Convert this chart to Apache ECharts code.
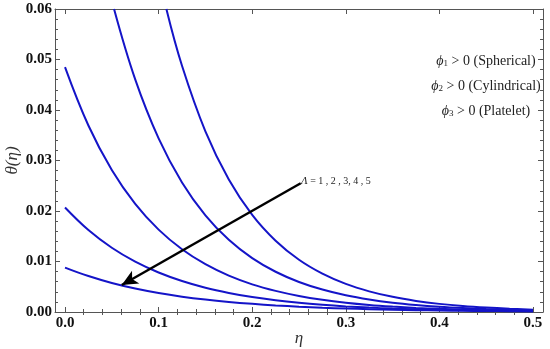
<!DOCTYPE html>
<html>
<head>
<meta charset="utf-8">
<script src="https://cdn.jsdelivr.net/npm/echarts@6/dist/echarts.min.js"></script>
<style>html,body{margin:0;padding:0;background:#fff}#c{width:550px;height:349px}</style>
</head>
<body>
<div id="c"></div>
<script>
// ---- data ----
const etaA   = [0, 0.025, 0.05, 0.075, 0.1, 0.125, 0.15, 0.175, 0.2, 0.225, 0.25, 0.275, 0.3, 0.325, 0.35, 0.375, 0.4, 0.425, 0.45, 0.475, 0.5];
const theta1 = [0.0088, 0.00712, 0.00575, 0.00465, 0.00376, 0.00304, 0.00246, 0.00199, 0.00161, 0.00130, 0.00105, 0.00085, 0.00069, 0.00056, 0.00045, 0.00036, 0.00029, 0.00024, 0.00019, 0.00016, 0.00013];
const theta2 = [0.0207, 0.01623, 0.01272, 0.00997, 0.00782, 0.00613, 0.00480, 0.00377, 0.00295, 0.00231, 0.00181, 0.00142, 0.00111, 0.00087, 0.00068, 0.00054, 0.00042, 0.00033, 0.00026, 0.00020, 0.00016];
const theta3 = [0.0485, 0.03693, 0.02812, 0.02141, 0.01631, 0.01242, 0.00946, 0.00720, 0.00548, 0.00418, 0.00318, 0.00242, 0.00184, 0.00140, 0.00107, 0.00081, 0.00062, 0.00047, 0.00036, 0.00027, 0.00021];
const etaB   = [0.0524, 0.075, 0.1, 0.125, 0.15, 0.175, 0.2, 0.225, 0.25, 0.275, 0.3, 0.325, 0.35, 0.375, 0.4, 0.425, 0.45, 0.475, 0.5];
const theta4 = [0.06, 0.04606, 0.03438, 0.02566, 0.01915, 0.01430, 0.01067, 0.00797, 0.00595, 0.00444, 0.00331, 0.00247, 0.00184, 0.00138, 0.00103, 0.00077, 0.00057, 0.00043, 0.00032];
const etaC   = [0.1083, 0.125, 0.15, 0.175, 0.2, 0.225, 0.25, 0.275, 0.3, 0.325, 0.35, 0.375, 0.4, 0.425, 0.45, 0.475, 0.5];
const theta5 = [0.06, 0.04877, 0.03578, 0.02624, 0.01924, 0.01412, 0.01035, 0.00760, 0.00557, 0.00409, 0.00300, 0.00220, 0.00161, 0.00118, 0.00087, 0.00064, 0.00047];

const xMajor = [0, 0.1, 0.2, 0.3, 0.4, 0.5];
const xMinor = [0.02, 0.04, 0.06, 0.08, 0.12, 0.14, 0.16, 0.18, 0.22, 0.24, 0.26, 0.28, 0.32, 0.34, 0.36, 0.38, 0.42, 0.44, 0.46, 0.48];
const arrowStart = [0.2518, 0.0255];
const arrowEnd   = [0.0606, 0.00535];
const legendLines = [['1', 'Spherical'], ['2', 'Cylindrical'], ['3', 'Platelet']];
const lambdaText = '{i|Λ} = 1 , 2 , 3, 4 , 5';

const zip = (xs, ys) => xs.map((x, i) => [x, ys[i]]);
const curves = [zip(etaA, theta1), zip(etaA, theta2), zip(etaA, theta3), zip(etaB, theta4), zip(etaC, theta5)];

const frameColor = '#555';
const labelFont = {fontFamily: 'Liberation Serif', fontWeight: 'bold', fontSize: 15, color: '#111'};
const xRange = {min: -0.0107, max: 0.5107};

const chart = echarts.init(document.getElementById('c'), null, {renderer: 'canvas'});

const series = curves.map((d, i) => ({
  type: 'line', data: d, smooth: 0.4, showSymbol: false, symbol: 'none',
  lineStyle: {color: '#1414c8', width: 2}, clip: true, silent: true,
  markLine: i === 0 ? {
    silent: true, symbol: ['none', 'arrow'], symbolSize: [11, 16],
    lineStyle: {color: '#000', width: 2.5, type: 'solid'},
    label: {show: false},
    data: [[{coord: arrowStart}, {coord: arrowEnd}]]
  } : undefined
}));

const legendGraphics = legendLines.map((l, i) => ({
  type: 'text', x: 486, y: 61 + i * 25,
  style: {
    text: '{p|ϕ}{s|' + l[0] + '}{t| > 0 (' + l[1] + ')}',
    align: 'center', verticalAlign: 'middle',
    rich: {
      p: {fontFamily: 'Liberation Serif', fontStyle: 'italic', fontSize: 14, fill: '#222'},
      s: {fontFamily: 'Liberation Serif', fontSize: 9, fill: '#222', padding: [6, 0, 0, 0]},
      t: {fontFamily: 'Liberation Serif', fontSize: 14, fill: '#222'}
    }
  }
}));

chart.setOption({
  animation: false,
  backgroundColor: '#fff',
  grid: {left: 55, right: 7, top: 9, bottom: 37, containLabel: false, outerBoundsMode: 'none'},
  xAxis: [
    Object.assign({type: 'value', position: 'bottom', name: 'η', nameLocation: 'middle', nameGap: 18, nameMoveOverlap: false,
      nameTextStyle: {fontFamily: 'Liberation Serif', fontStyle: 'italic', fontSize: 17, color: '#333'},
      axisLine: {show: true, onZero: false, lineStyle: {color: frameColor, width: 1}},
      axisTick: {show: true, inside: true, length: 5, customValues: xMajor, lineStyle: {color: frameColor}},
      axisLabel: Object.assign({show: true, margin: 4, customValues: xMajor, formatter: v => v.toFixed(1)}, labelFont),
      splitLine: {show: false}}, xRange),
    Object.assign({type: 'value', position: 'bottom',
      axisLine: {show: false}, axisLabel: {show: false}, splitLine: {show: false},
      axisTick: {show: true, inside: true, length: 3, customValues: xMinor, lineStyle: {color: frameColor}}}, xRange),
    Object.assign({type: 'value', position: 'top',
      axisLine: {show: true, onZero: false, lineStyle: {color: frameColor, width: 1}}, axisLabel: {show: false}, splitLine: {show: false},
      axisTick: {show: true, inside: true, length: 5, customValues: xMajor, lineStyle: {color: frameColor}}}, xRange),
    Object.assign({type: 'value', position: 'top',
      axisLine: {show: false}, axisLabel: {show: false}, splitLine: {show: false},
      axisTick: {show: true, inside: true, length: 3, customValues: xMinor, lineStyle: {color: frameColor}}}, xRange)
  ],
  yAxis: [
    {type: 'value', position: 'left', min: 0, max: 0.06, interval: 0.01,
      name: 'θ(η)', nameLocation: 'middle', nameGap: 34, nameRotate: 90, nameMoveOverlap: false,
      nameTextStyle: {fontFamily: 'Liberation Serif', fontStyle: 'italic', fontSize: 17, color: '#333'},
      axisLine: {show: true, onZero: false, lineStyle: {color: frameColor, width: 1}},
      axisTick: {show: true, inside: true, length: 5, lineStyle: {color: frameColor}},
      minorTick: {show: true, splitNumber: 5, length: 3, lineStyle: {color: frameColor}},
      axisLabel: Object.assign({margin: 3, formatter: v => v.toFixed(2)}, labelFont),
      splitLine: {show: false}, minorSplitLine: {show: false}},
    {type: 'value', position: 'right', min: 0, max: 0.06, interval: 0.01,
      axisLine: {show: true, onZero: false, lineStyle: {color: frameColor, width: 1}},
      axisTick: {show: true, inside: true, length: 5, lineStyle: {color: frameColor}},
      minorTick: {show: true, splitNumber: 5, length: 3, lineStyle: {color: frameColor}},
      axisLabel: {show: false}, splitLine: {show: false}}
  ],
  series: series,
  graphic: legendGraphics.concat([{
    type: 'text', x: 301, y: 181,
    style: {
      text: lambdaText, align: 'left', verticalAlign: 'middle',
      fontFamily: 'Liberation Serif', fontSize: 10, fill: '#222',
      rich: {i: {fontFamily: 'Liberation Serif', fontStyle: 'italic', fontSize: 11, fill: '#222'}}
    }
  }])
});
</script>
</body>
</html>
